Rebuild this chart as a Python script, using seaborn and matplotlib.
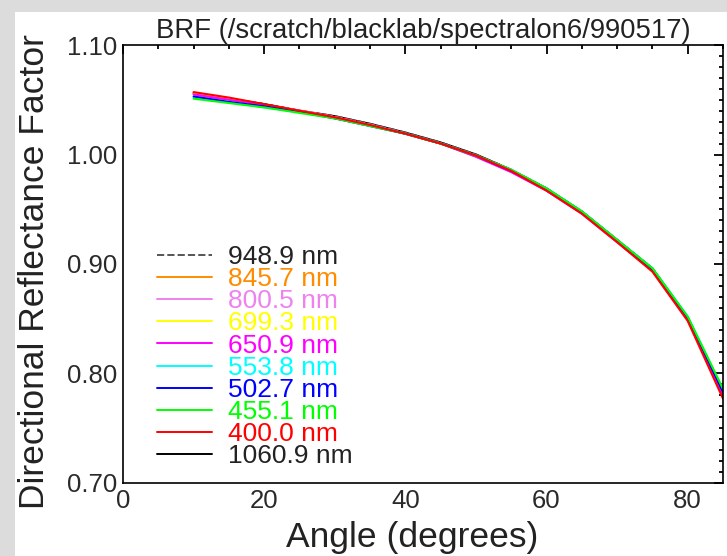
import matplotlib
matplotlib.use("Agg")
import matplotlib.pyplot as plt
import numpy as np
import pandas as pd
import seaborn as sns
from matplotlib.lines import Line2D
from matplotlib.patches import Rectangle
from matplotlib.ticker import MultipleLocator, FormatStrFormatter

# Viewing angle (degrees)
angle = [10, 15, 20, 25, 30, 35, 40, 45, 50, 55, 60, 65, 70, 75, 80, 85]

# Directional reflectance factor per wavelength
brf_1060_9 = [1.056, 1.051, 1.046, 1.040, 1.035, 1.028, 1.020, 1.011, 1.000, 0.986, 0.969, 0.948, 0.922, 0.896, 0.851, 0.782]
brf_948_9 = [1.056, 1.051, 1.046, 1.040, 1.035, 1.028, 1.020, 1.011, 1.000, 0.986, 0.969, 0.948, 0.922, 0.896, 0.851, 0.783]
brf_845_7 = [1.056, 1.051, 1.045, 1.040, 1.034, 1.027, 1.019, 1.010, 0.999, 0.985, 0.968, 0.947, 0.921, 0.895, 0.850, 0.781]
brf_800_5 = [1.055, 1.050, 1.045, 1.040, 1.034, 1.027, 1.019, 1.010, 0.998, 0.984, 0.967, 0.946, 0.920, 0.894, 0.849, 0.780]
brf_699_3 = [1.056, 1.051, 1.045, 1.040, 1.034, 1.027, 1.019, 1.010, 0.999, 0.985, 0.968, 0.947, 0.921, 0.895, 0.850, 0.782]
brf_650_9 = [1.055, 1.050, 1.045, 1.040, 1.034, 1.027, 1.019, 1.010, 0.998, 0.984, 0.967, 0.946, 0.920, 0.894, 0.849, 0.780]
brf_553_8 = [1.052, 1.048, 1.043, 1.039, 1.033, 1.027, 1.019, 1.010, 0.999, 0.986, 0.969, 0.948, 0.922, 0.896, 0.852, 0.785]
brf_502_7 = [1.053, 1.048, 1.044, 1.039, 1.033, 1.026, 1.019, 1.010, 0.999, 0.985, 0.968, 0.947, 0.921, 0.895, 0.851, 0.783]
brf_455_1 = [1.051, 1.047, 1.043, 1.038, 1.033, 1.026, 1.019, 1.010, 0.999, 0.986, 0.969, 0.948, 0.922, 0.896, 0.852, 0.786]
brf_400_0 = [1.057, 1.052, 1.046, 1.040, 1.034, 1.027, 1.019, 1.010, 0.999, 0.985, 0.967, 0.946, 0.920, 0.893, 0.848, 0.777]

# Legend order (top to bottom)
labels = ["948.9 nm", "845.7 nm", "800.5 nm", "699.3 nm", "650.9 nm",
          "553.8 nm", "502.7 nm", "455.1 nm", "400.0 nm", "1060.9 nm"]
series = [brf_948_9, brf_845_7, brf_800_5, brf_699_3, brf_650_9,
          brf_553_8, brf_502_7, brf_455_1, brf_400_0, brf_1060_9]
line_colors = ["#555555", "#ff8c00", "#ee82ee", "#ffff00", "#ff00ff",
               "#00ffff", "#0000ff", "#00ff00", "#ff0000", "#000000"]
text_colors = ["#222222", "#ff8c00", "#ee82ee", "#ffff00", "#ff00ff",
               "#00ffff", "#0000ff", "#00ff00", "#ff0000", "#222222"]
line_styles = ["--", "-", "-", "-", "-", "-", "-", "-", "-", "-"]

# Drawing order: black first, red on top
draw_order = [9, 0, 1, 2, 3, 4, 5, 6, 7, 8]

frames = []
for lab, vals in zip(labels, series):
    frames.append(pd.DataFrame({"angle": angle, "brf": vals, "wavelength": lab}))
df = pd.concat(frames, ignore_index=True)

sns.set_theme(style="white")
plt.rcParams["font.family"] = ["Liberation Sans", "DejaVu Sans"]

W, H = 727, 556
fig = plt.figure(figsize=(W / 100, H / 100), dpi=100, facecolor="#dcdcdc")
fig.patches.append(Rectangle((15 / W, 0), 1, 1 - 12 / H, transform=fig.transFigure,
                             facecolor="white", edgecolor="none", zorder=-1))
ax = fig.add_axes([123 / W, 1 - 483 / H, 600 / W, 438 / H])
ax.set_facecolor("white")

for i in draw_order:
    sub = df[df["wavelength"] == labels[i]]
    sns.lineplot(data=sub, x="angle", y="brf", ax=ax, color=line_colors[i],
                 linestyle=line_styles[i], linewidth=1.5, legend=False)

ax.set_xlim(0, 85)
ax.set_ylim(0.70, 1.10)
ax.xaxis.set_major_locator(MultipleLocator(20))
ax.xaxis.set_minor_locator(MultipleLocator(5))
ax.yaxis.set_major_locator(MultipleLocator(0.10))
ax.yaxis.set_minor_locator(MultipleLocator(0.01))
ax.yaxis.set_major_formatter(FormatStrFormatter("%.2f"))

ax.tick_params(which="both", direction="in", top=True, right=True,
               colors="black", width=1.3, labelsize=18.5, labelcolor="#2a2a2a")
ax.tick_params(which="major", length=6.5, pad=4)
ax.tick_params(which="minor", length=3.2)
for sp in ax.spines.values():
    sp.set_color("black")
    sp.set_linewidth(1.2)

ax.set_title("BRF (/scratch/blacklab/spectralon6/990517)", fontsize=19.8,
             color="#222222", pad=5)
ax.set_xlabel("Angle (degrees)", fontsize=25.5, color="#222222", va="center")
ax.set_ylabel("Directional Reflectance Factor", fontsize=25.5, color="#222222", va="center")
ax.xaxis.set_label_coords((412 - 123) / 600, (483 - 537) / 438)
ax.yaxis.set_label_coords((35 - 123) / 600, (483 - 272) / 438)

handles = [Line2D([0], [0], color=c, linestyle=s, linewidth=1.4)
           for c, s in zip(line_colors, line_styles)]
ax.legend(handles, labels, loc="upper left",
          bbox_to_anchor=(157 / W, 1 - 245 / H), bbox_transform=fig.transFigure,
          frameon=False, fontsize=19, handlelength=2.1, handletextpad=0.6,
          labelspacing=-0.07, borderpad=0, borderaxespad=0, labelcolor=text_colors)

fig.savefig("out.png", dpi=100, facecolor=fig.get_facecolor())
